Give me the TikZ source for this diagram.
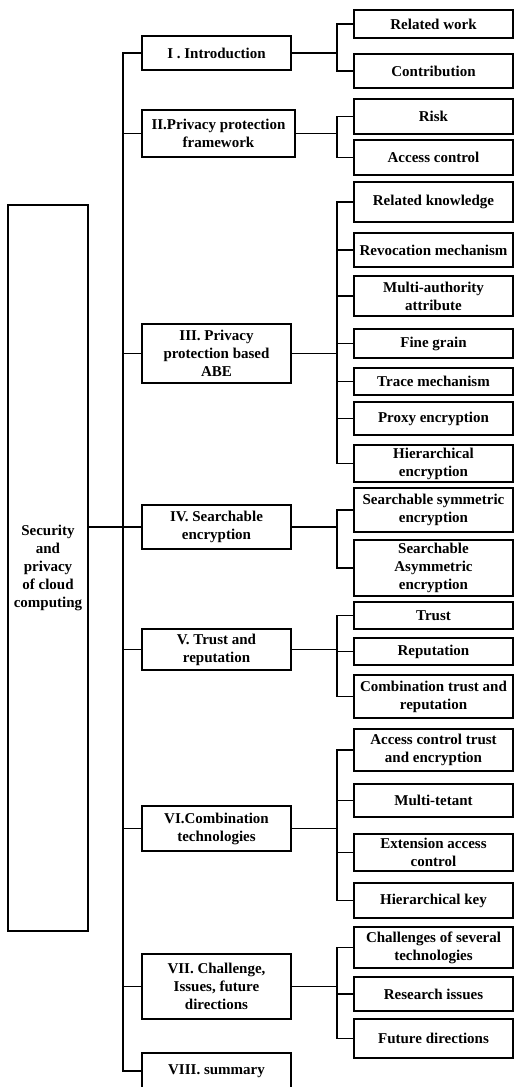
\documentclass[tikz,border=0pt]{standalone}
\usepackage{fontspec}
\setmainfont{Liberation Serif}
\begin{document}
\begin{tikzpicture}[x=1pt,y=-1pt,
  box/.style={draw,line width=1.8pt,align=center,inner sep=1pt,
    font=\fontsize{15}{18}\selectfont\bfseries},
  topbox/.style={box,minimum width=149pt},
  subbox/.style={box,minimum width=159pt},
  link/.style={line width=1.5pt}]
  \useasboundingbox (0,0) rectangle (514,1087);

  % root and the sections
  \node[box,minimum width=80pt,minimum height=726pt] (root) at (48,568) {Security\\and\\privacy\\of cloud\\computing};

  \node[topbox,minimum height=34pt] (intro) at (216.5,53) {I . Introduction};
  \node[box,minimum width=153pt,minimum height=47pt] (frame) at (218.5,133.5) {II.Privacy protection\\framework};
  \node[topbox,minimum height=59pt] (abe) at (216.5,353.5) {III. Privacy\\protection based\\ABE};
  \node[topbox,minimum height=44pt] (search) at (216.5,527) {IV. Searchable\\encryption};
  \node[topbox,minimum height=41pt] (trust) at (216.5,649.5) {V. Trust and\\reputation};
  \node[topbox,minimum height=45pt] (comb) at (216.5,828.5) {VI.Combination\\technologies};
  \node[topbox,minimum height=65pt] (chall) at (216.5,986.5) {VII. Challenge,\\Issues, future\\directions};
  \node[topbox,minimum height=36pt] (summ) at (216.5,1071) {VIII. summary};

  % subsections
  \node[subbox,minimum height=28pt] (relw) at (433.5,24) {Related work};
  \node[subbox,minimum height=34pt] (contr) at (433.5,71) {Contribution};

  \node[subbox,minimum height=35pt] (risk) at (433.5,116.5) {Risk};
  \node[subbox,minimum height=35pt] (accc) at (433.5,157.5) {Access control};

  \node[subbox,minimum height=40pt] (relk) at (433.5,202) {Related knowledge};
  \node[subbox,minimum height=34pt] (revo) at (433.5,250) {Revocation mechanism};
  \node[subbox,minimum height=40pt] (multa) at (433.5,296) {Multi-authority\\attribute};
  \node[subbox,minimum height=29pt] (fine) at (433.5,343.5) {Fine grain};
  \node[subbox,minimum height=27pt] (trace) at (433.5,381.5) {Trace mechanism};
  \node[subbox,minimum height=33pt] (proxy) at (433.5,418.5) {Proxy encryption};
  \node[subbox,minimum height=37pt] (hienc) at (433.5,463.5) {Hierarchical\\encryption};

  \node[subbox,minimum height=44pt] (sse) at (433.5,510) {Searchable symmetric\\encryption};
  \node[subbox,minimum height=56pt] (sae) at (433.5,568) {Searchable\\Asymmetric\\encryption};

  \node[subbox,minimum height=27pt] (tru) at (433.5,615.5) {Trust};
  \node[subbox,minimum height=27pt] (repu) at (433.5,651.5) {Reputation};
  \node[subbox,minimum height=43pt] (ctr) at (433.5,696.5) {Combination trust and\\reputation};

  \node[subbox,minimum height=42pt] (acte) at (433.5,750) {Access control trust\\and encryption};
  \node[subbox,minimum height=33pt] (mten) at (433.5,800.5) {Multi-tetant};
  \node[subbox,minimum height=37pt] (extac) at (433.5,852.5) {Extension access\\control};
  \node[subbox,minimum height=35pt] (hkey) at (433.5,900.5) {Hierarchical key};

  \node[subbox,minimum height=41pt] (chst) at (433.5,947.5) {Challenges of several\\technologies};
  \node[subbox,minimum height=34pt] (resi) at (433.5,994) {Research issues};
  \node[subbox,minimum height=39pt] (futd) at (433.5,1038.5) {Future directions};

  % main spine
  \draw[link] (intro.west) -- ++(-18,0) |- (summ.west);
  \draw[link] (frame.west) -- ++(-18,0);
  \draw[link] (abe.west) -- ++(-18,0);
  \draw[link] (trust.west) -- ++(-18,0);
  \draw[link] (comb.west) -- ++(-18,0);
  \draw[link] (chall.west) -- ++(-18,0);
  \draw[link] (root.east |- search.west) -- (search.west);

  % second level branches
  \coordinate (trunk) at (337,0);
  \draw[link] (intro.east) -- (intro.east -| trunk);
  \draw[link] (intro.east -| trunk) |- (relw.west);
  \draw[link] (intro.east -| trunk) |- (contr.west);

  \draw[link] (frame.east) -- (frame.east -| trunk);
  \draw[link] (frame.east -| trunk) |- (risk.west);
  \draw[link] (frame.east -| trunk) |- (accc.west);

  \draw[link] (abe.east) -- (abe.east -| trunk);
  \draw[link] (abe.east -| trunk) |- (relk.west);
  \draw[link] (abe.east -| trunk) |- (revo.west);
  \draw[link] (abe.east -| trunk) |- (multa.west);
  \draw[link] (abe.east -| trunk) |- (fine.west);
  \draw[link] (abe.east -| trunk) |- (trace.west);
  \draw[link] (abe.east -| trunk) |- (proxy.west);
  \draw[link] (abe.east -| trunk) |- (hienc.west);

  \draw[link] (search.east) -- (search.east -| trunk);
  \draw[link] (search.east -| trunk) |- (sse.west);
  \draw[link] (search.east -| trunk) |- (sae.west);

  \draw[link] (trust.east) -- (trust.east -| trunk);
  \draw[link] (trust.east -| trunk) |- (tru.west);
  \draw[link] (trust.east -| trunk) |- (repu.west);
  \draw[link] (trust.east -| trunk) |- (ctr.west);

  \draw[link] (comb.east) -- (comb.east -| trunk);
  \draw[link] (comb.east -| trunk) |- (acte.west);
  \draw[link] (comb.east -| trunk) |- (mten.west);
  \draw[link] (comb.east -| trunk) |- (extac.west);
  \draw[link] (comb.east -| trunk) |- (hkey.west);

  \draw[link] (chall.east) -- (chall.east -| trunk);
  \draw[link] (chall.east -| trunk) |- (chst.west);
  \draw[link] (chall.east -| trunk) |- (resi.west);
  \draw[link] (chall.east -| trunk) |- (futd.west);
\end{tikzpicture}
\end{document}
